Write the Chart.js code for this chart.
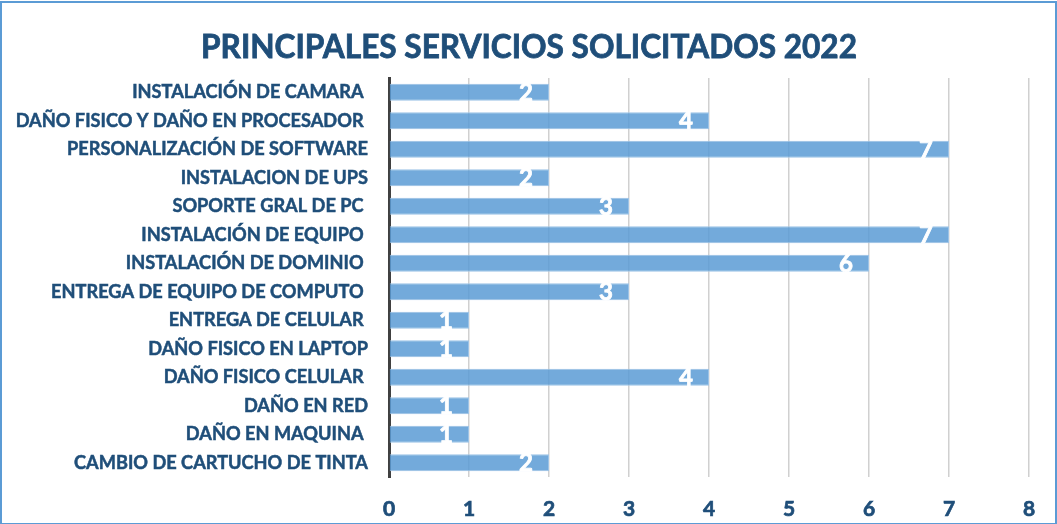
<!DOCTYPE html>
<html>
<head>
<meta charset="utf-8">
<script src="https://cdn.jsdelivr.net/npm/chart.js@4/dist/chart.umd.min.js"></script>
<style>
  html, body { margin: 0; padding: 0; background: #fff; }
  #wrap { width: 1057px; height: 524px; }
</style>
</head>
<body>
<div id="wrap"><canvas id="myChart" width="1057" height="524"></canvas></div>
<script>
const categories = [
    'INSTALACIÓN DE CAMARA ',
    'DAÑO FISICO Y DAÑO EN PROCESADOR ',
    'PERSONALIZACIÓN DE SOFTWARE',
    'INSTALACION DE UPS',
    'SOPORTE GRAL DE PC ',
    'INSTALACIÓN DE EQUIPO ',
    'INSTALACIÓN DE DOMINIO ',
    'ENTREGA DE EQUIPO DE COMPUTO ',
    'ENTREGA DE CELULAR ',
    'DAÑO FISICO EN LAPTOP',
    'DAÑO FISICO CELULAR ',
    'DAÑO EN RED',
    'DAÑO EN MAQUINA ',
    'CAMBIO DE CARTUCHO DE TINTA'
]
const cantidades = [2, 4, 7, 2, 3, 7, 6, 3, 1, 1, 4, 1, 1, 2]
const xTicks = [0, 1, 2, 3, 4, 5, 6, 7, 8]

const titulo = 'PRINCIPALES SERVICIOS SOLICITADOS 2022'
const azulTexto = '#1f4e79'
const fuente = 'Lato'

// fondo blanco, marco azul y titulo centrado en todo el lienzo
const marco = {
    id: 'marco',
    beforeDraw(chart) {
        const ctx = chart.ctx
        ctx.save()
        ctx.fillStyle = '#fff'
        ctx.fillRect(0, 0, chart.width, chart.height)
        ctx.strokeStyle = '#5b9bd5'
        ctx.lineWidth = 2
        ctx.strokeRect(1, 2, chart.width - 2, chart.height - 2)
        ctx.fillStyle = azulTexto
        ctx.strokeStyle = azulTexto
        ctx.lineWidth = 0.8
        ctx.font = 'bold 31.6px ' + fuente
        ctx.textAlign = 'center'
        ctx.textBaseline = 'middle'
        ctx.fillText(titulo, 529, 48)
        ctx.strokeText(titulo, 529, 48)
        ctx.restore()
    }
}

// etiquetas de valor dentro de la barra
const etiquetas = {
    id: 'etiquetas',
    afterDatasetsDraw(chart) {
        const ctx = chart.ctx
        const meta = chart.getDatasetMeta(0)
        ctx.save()
        ctx.fillStyle = '#fff'
        ctx.strokeStyle = '#fff'
        ctx.lineWidth = 0.8
        ctx.font = 'bold 24px ' + fuente
        ctx.textAlign = 'right'
        ctx.textBaseline = 'middle'
        meta.data.forEach((bar, i) => {
            ctx.fillText(String(cantidades[i]), bar.x - 16, bar.y + 1)
            ctx.strokeText(String(cantidades[i]), bar.x - 16, bar.y + 1)
        })
        ctx.restore()
    }
}

new Chart(document.getElementById('myChart'), {
    type: 'bar',
    data: {
        labels: categories,
        datasets: [{
            data: cantidades,
            backgroundColor: 'rgba(91,155,213,0.85)',
            borderColor: '#9dc3e6',
            borderWidth: 1,
            barPercentage: 0.6,
            categoryPercentage: 1
        }]
    },
    options: {
        indexAxis: 'y',
        responsive: false,
        animation: false,
        layout: { padding: { left: 0, right: 28, top: 78, bottom: 0 } },
        plugins: {
            legend: { display: false },
            tooltip: { enabled: false },
            title: { display: false }
        },
        scales: {
            x: {
                min: 0,
                max: 8,
                afterBuildTicks: s => { s.ticks = xTicks.map(v => ({ value: v })) },
                afterFit: s => { s.height = 47 },
                grid: { color: '#d0d0d0', lineWidth: 1.5, drawTicks: false },
                border: { display: false },
                ticks: {
                    padding: 20,
                    color: azulTexto,
                    textStrokeColor: azulTexto,
                    textStrokeWidth: 0.7,
                    font: { family: fuente, size: 21, weight: 'bold' }
                }
            },
            y: {
                afterFit: s => { s.width = 389 },
                grid: { display: false, drawTicks: false },
                border: { display: true, color: '#404040', width: 3 },
                ticks: {
                    padding: 21,
                    color: azulTexto,
                    textStrokeColor: azulTexto,
                    textStrokeWidth: 0.5,
                    font: { family: fuente, size: 18.2, weight: 'bold' },
                    autoSkip: false
                }
            }
        }
    },
    plugins: [marco, etiquetas]
})
</script>
</body>
</html>
